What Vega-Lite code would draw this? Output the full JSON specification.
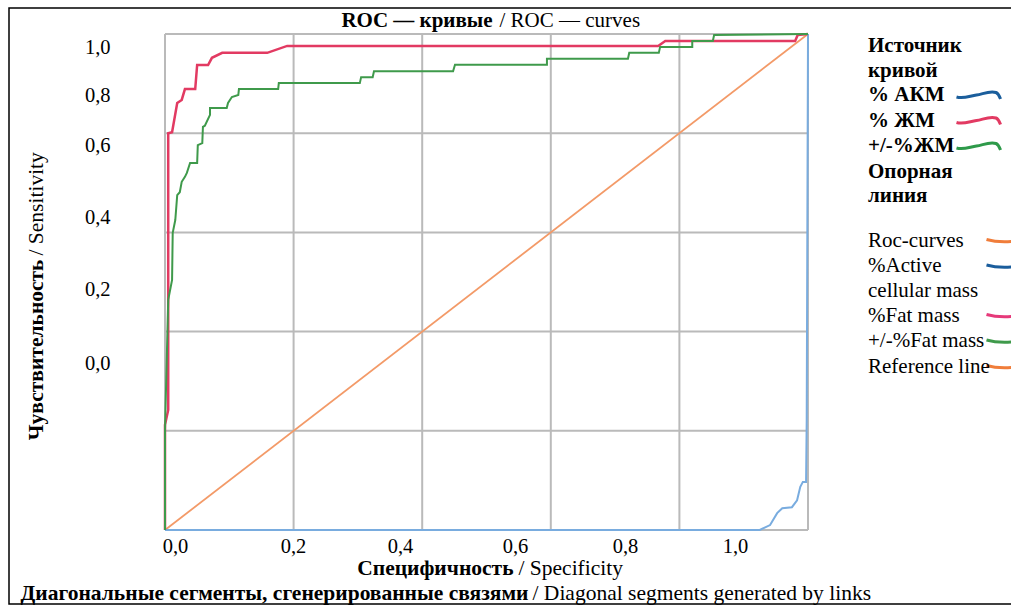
{
  "$schema": "https://vega.github.io/schema/vega-lite/v6.json",
  "width": 1004,
  "height": 596,
  "autosize": {"type": "none"},
  "padding": {"left": 9, "top": 8, "right": -2, "bottom": 2},
  "background": "#ffffff",
  "config": {
    "view": {"stroke": "#000000", "strokeWidth": 1.5},
    "font": "Liberation Serif",
    "style": {"guide-label": {"lineHeight": 24.5}}
  },
  "datasets": {
    "grid": [{"v": 0}, {"v": 0.2}, {"v": 0.4}, {"v": 0.6}, {"v": 0.8}, {"v": 1}],
    "names": [
      {"ru": "% АКМ", "en": "%Active cellular mass"},
      {"ru": "% ЖМ", "en": "%Fat mass"},
      {"ru": "+/-%ЖМ", "en": "+/-%Fat mass"},
      {"ru": "Опорная линия", "en": "Reference line"}
    ],
    "curves": [
      {"s": "Опорная линия", "i": 0, "x": 0, "y": 0},
      {"s": "Опорная линия", "i": 1, "x": 1, "y": 1},
      {"s": "% АКМ", "i": 0, "x": 0, "y": 0},
      {"s": "% АКМ", "i": 1, "x": 0.925, "y": 0},
      {"s": "% АКМ", "i": 2, "x": 0.941, "y": 0.01},
      {"s": "% АКМ", "i": 3, "x": 0.952, "y": 0.034},
      {"s": "% АКМ", "i": 4, "x": 0.96, "y": 0.044},
      {"s": "% АКМ", "i": 5, "x": 0.975, "y": 0.046},
      {"s": "% АКМ", "i": 6, "x": 0.983, "y": 0.06},
      {"s": "% АКМ", "i": 7, "x": 0.988, "y": 0.087},
      {"s": "% АКМ", "i": 8, "x": 0.992, "y": 0.097},
      {"s": "% АКМ", "i": 9, "x": 0.997, "y": 0.097},
      {"s": "% АКМ", "i": 10, "x": 0.998, "y": 0.222},
      {"s": "% АКМ", "i": 11, "x": 1, "y": 1},
      {"s": "% ЖМ", "i": 0, "x": 0, "y": 0},
      {"s": "% ЖМ", "i": 1, "x": 0, "y": 0.212},
      {"s": "% ЖМ", "i": 2, "x": 0.005, "y": 0.242},
      {"s": "% ЖМ", "i": 3, "x": 0.005, "y": 0.8},
      {"s": "% ЖМ", "i": 4, "x": 0.011, "y": 0.802},
      {"s": "% ЖМ", "i": 5, "x": 0.019, "y": 0.861},
      {"s": "% ЖМ", "i": 6, "x": 0.026, "y": 0.867},
      {"s": "% ЖМ", "i": 7, "x": 0.031, "y": 0.889},
      {"s": "% ЖМ", "i": 8, "x": 0.047, "y": 0.889},
      {"s": "% ЖМ", "i": 9, "x": 0.05, "y": 0.9375},
      {"s": "% ЖМ", "i": 10, "x": 0.067, "y": 0.9375},
      {"s": "% ЖМ", "i": 11, "x": 0.073, "y": 0.952},
      {"s": "% ЖМ", "i": 12, "x": 0.089, "y": 0.962},
      {"s": "% ЖМ", "i": 13, "x": 0.159, "y": 0.962},
      {"s": "% ЖМ", "i": 14, "x": 0.19, "y": 0.976},
      {"s": "% ЖМ", "i": 15, "x": 0.767, "y": 0.976},
      {"s": "% ЖМ", "i": 16, "x": 0.778, "y": 0.986},
      {"s": "% ЖМ", "i": 17, "x": 0.98, "y": 0.986},
      {"s": "% ЖМ", "i": 18, "x": 0.984, "y": 0.998},
      {"s": "% ЖМ", "i": 19, "x": 1, "y": 1},
      {"s": "+/-%ЖМ", "i": 0, "x": 0, "y": 0},
      {"s": "+/-%ЖМ", "i": 1, "x": 0, "y": 0.202},
      {"s": "+/-%ЖМ", "i": 2, "x": 0.005, "y": 0.464},
      {"s": "+/-%ЖМ", "i": 3, "x": 0.011, "y": 0.504},
      {"s": "+/-%ЖМ", "i": 4, "x": 0.012, "y": 0.599},
      {"s": "+/-%ЖМ", "i": 5, "x": 0.016, "y": 0.625},
      {"s": "+/-%ЖМ", "i": 6, "x": 0.019, "y": 0.675},
      {"s": "+/-%ЖМ", "i": 7, "x": 0.023, "y": 0.681},
      {"s": "+/-%ЖМ", "i": 8, "x": 0.026, "y": 0.702},
      {"s": "+/-%ЖМ", "i": 9, "x": 0.031, "y": 0.712},
      {"s": "+/-%ЖМ", "i": 10, "x": 0.034, "y": 0.72},
      {"s": "+/-%ЖМ", "i": 11, "x": 0.039, "y": 0.74},
      {"s": "+/-%ЖМ", "i": 12, "x": 0.05, "y": 0.74},
      {"s": "+/-%ЖМ", "i": 13, "x": 0.051, "y": 0.776},
      {"s": "+/-%ЖМ", "i": 14, "x": 0.058, "y": 0.78},
      {"s": "+/-%ЖМ", "i": 15, "x": 0.059, "y": 0.813},
      {"s": "+/-%ЖМ", "i": 16, "x": 0.062, "y": 0.815},
      {"s": "+/-%ЖМ", "i": 17, "x": 0.07, "y": 0.837},
      {"s": "+/-%ЖМ", "i": 18, "x": 0.07, "y": 0.851},
      {"s": "+/-%ЖМ", "i": 19, "x": 0.096, "y": 0.851},
      {"s": "+/-%ЖМ", "i": 20, "x": 0.098, "y": 0.861},
      {"s": "+/-%ЖМ", "i": 21, "x": 0.104, "y": 0.873},
      {"s": "+/-%ЖМ", "i": 22, "x": 0.114, "y": 0.877},
      {"s": "+/-%ЖМ", "i": 23, "x": 0.115, "y": 0.889},
      {"s": "+/-%ЖМ", "i": 24, "x": 0.176, "y": 0.889},
      {"s": "+/-%ЖМ", "i": 25, "x": 0.177, "y": 0.901},
      {"s": "+/-%ЖМ", "i": 26, "x": 0.303, "y": 0.901},
      {"s": "+/-%ЖМ", "i": 27, "x": 0.305, "y": 0.913},
      {"s": "+/-%ЖМ", "i": 28, "x": 0.323, "y": 0.913},
      {"s": "+/-%ЖМ", "i": 29, "x": 0.325, "y": 0.925},
      {"s": "+/-%ЖМ", "i": 30, "x": 0.448, "y": 0.925},
      {"s": "+/-%ЖМ", "i": 31, "x": 0.451, "y": 0.938},
      {"s": "+/-%ЖМ", "i": 32, "x": 0.594, "y": 0.938},
      {"s": "+/-%ЖМ", "i": 33, "x": 0.594, "y": 0.95},
      {"s": "+/-%ЖМ", "i": 34, "x": 0.72, "y": 0.95},
      {"s": "+/-%ЖМ", "i": 35, "x": 0.722, "y": 0.962},
      {"s": "+/-%ЖМ", "i": 36, "x": 0.768, "y": 0.962},
      {"s": "+/-%ЖМ", "i": 37, "x": 0.77, "y": 0.974},
      {"s": "+/-%ЖМ", "i": 38, "x": 0.82, "y": 0.974},
      {"s": "+/-%ЖМ", "i": 39, "x": 0.82, "y": 0.986},
      {"s": "+/-%ЖМ", "i": 40, "x": 0.852, "y": 0.986},
      {"s": "+/-%ЖМ", "i": 41, "x": 0.854, "y": 0.998},
      {"s": "+/-%ЖМ", "i": 42, "x": 1, "y": 1}
    ]
  },
  "resolve": {
    "axis": {"x": "independent", "y": "independent"},
    "scale": {"color": "independent"},
    "legend": {"color": "independent"}
  },
  "layer": [
    {
      "data": {"name": "grid"},
      "mark": {"type": "rule", "color": "#bababa", "strokeWidth": 2},
      "encoding": {
        "x": {
          "field": "v", "type": "quantitative",
          "scale": {"domain": [0, 1], "range": [156, 799], "nice": false, "zero": false},
          "axis": {
            "orient": "bottom", "offset": -74,
            "values": [0.0156, 0.199, 0.3655, 0.5443, 0.7154, 0.8865],
            "labelExpr": "datum.value < 0.1 ? '0,0' : datum.value < 0.28 ? '0,2' : datum.value < 0.45 ? '0,4' : datum.value < 0.63 ? '0,6' : datum.value < 0.8 ? '0,8' : '1,0'",
            "grid": false, "ticks": false, "domain": false,
            "labelFont": "Liberation Serif", "labelFontSize": 20.5, "labelColor": "#000000",
            "labelPadding": 16, "labelBaseline": "middle", "labelOverlap": false, "labelFlush": false,
            "title": "Специфичность",
            "titleFont": "Liberation Serif", "titleFontSize": 21.5, "titleFontWeight": "bold", "titleColor": "#000000",
            "titleX": 504, "titleY": 38, "titleAlign": "right", "titleBaseline": "middle", "titleAngle": 0, "titleLimit": 2000
          }
        },
        "y": {"datum": 0, "type": "quantitative", "scale": {"domain": [0, 1], "range": [522, 26], "nice": false, "zero": false}, "axis": null},
        "y2": {"datum": 1}
      }
    },
    {
      "data": {"name": "grid"},
      "mark": {"type": "rule", "color": "#bababa", "strokeWidth": 2},
      "encoding": {
        "y": {
          "field": "v", "type": "quantitative",
          "axis": {
            "orient": "left", "offset": -104,
            "values": [0.3361, 0.4839, 0.6296, 0.7762, 0.8756, 0.9724],
            "labelExpr": "datum.value < 0.4 ? '0,0' : datum.value < 0.55 ? '0,2' : datum.value < 0.7 ? '0,4' : datum.value < 0.82 ? '0,6' : datum.value < 0.92 ? '0,8' : '1,0'",
            "grid": false, "ticks": false, "domain": false,
            "labelFont": "Liberation Serif", "labelFontSize": 20.5, "labelColor": "#000000",
            "labelPadding": 3, "labelOverlap": false, "labelFlush": false,
            "title": "Чувствительность",
            "titleFont": "Liberation Serif", "titleFontSize": 21.5, "titleFontWeight": "bold", "titleColor": "#000000",
            "titleAngle": 270, "titleAlign": "right", "titleBaseline": "alphabetic",
            "titleX": -71, "titleY": 251, "titleLimit": 2000
          }
        },
        "x": {"datum": 0, "type": "quantitative", "axis": null},
        "x2": {"datum": 1}
      }
    },
    {
      "data": {"name": "curves"},
      "transform": [{"filter": "datum.s == 'Опорная линия'"}],
      "mark": {"type": "line", "strokeWidth": 1.8, "color": "#f39a68"},
      "encoding": {
        "x": {
          "field": "x", "type": "quantitative",
          "axis": {
            "orient": "bottom", "offset": 0, "labels": false, "ticks": false, "domain": false, "grid": false,
            "title": "/ Specificity",
            "titleFont": "Liberation Serif", "titleFontSize": 21.5, "titleFontWeight": "normal", "titleColor": "#000000",
            "titleX": 509, "titleY": -36, "titleAlign": "left", "titleBaseline": "middle", "titleAngle": 0, "titleLimit": 2000
          }
        },
        "y": {
          "field": "y", "type": "quantitative",
          "axis": {
            "orient": "left", "offset": 0, "labels": false, "ticks": false, "domain": false, "grid": false,
            "title": "/ Sensitivity",
            "titleFont": "Liberation Serif", "titleFontSize": 21.5, "titleFontWeight": "normal", "titleColor": "#000000",
            "titleAngle": 270, "titleAlign": "left", "titleBaseline": "alphabetic",
            "titleX": 33, "titleY": 247, "titleLimit": 2000
          }
        },
        "order": {"field": "i", "type": "quantitative"}
      }
    },
    {
      "data": {"name": "curves"},
      "transform": [{"filter": "datum.s == '% АКМ'"}],
      "mark": {"type": "line", "strokeWidth": 2, "color": "#79acdf"},
      "encoding": {
        "x": {
          "field": "x", "type": "quantitative",
          "axis": {
            "orient": "bottom", "offset": 0, "labels": false, "ticks": false, "domain": false, "grid": false,
            "title": "Диагональные сегменты, сгенерированные связями",
            "titleFont": "Liberation Serif", "titleFontSize": 21.5, "titleFontWeight": "bold", "titleColor": "#000000",
            "titleX": 519, "titleY": -11, "titleAlign": "right", "titleBaseline": "middle", "titleAngle": 0, "titleLimit": 2000
          }
        },
        "y": {
          "field": "y", "type": "quantitative",
          "axis": {
            "orient": "left", "offset": 0, "labels": false, "ticks": false, "domain": false, "grid": false,
            "title": "ROC — кривые",
            "titleFont": "Liberation Serif", "titleFontSize": 21, "titleFontWeight": "bold", "titleColor": "#000000",
            "titleAngle": 0, "titleAlign": "right", "titleBaseline": "middle",
            "titleX": 483, "titleY": 12, "titleLimit": 2000
          }
        },
        "order": {"field": "i", "type": "quantitative"}
      }
    },
    {
      "data": {"name": "curves"},
      "transform": [{"filter": "datum.s == '% ЖМ'"}],
      "mark": {"type": "line", "strokeWidth": 2.5},
      "encoding": {
        "x": {
          "field": "x", "type": "quantitative",
          "axis": {
            "orient": "bottom", "offset": 0, "labels": false, "ticks": false, "domain": false, "grid": false,
            "title": "/ Diagonal segments generated by links",
            "titleFont": "Liberation Serif", "titleFontSize": 21.5, "titleFontWeight": "normal", "titleColor": "#000000",
            "titleX": 523, "titleY": -11, "titleAlign": "left", "titleBaseline": "middle", "titleAngle": 0, "titleLimit": 2000
          }
        },
        "y": {"field": "y", "type": "quantitative", "axis": null},
        "order": {"field": "i", "type": "quantitative"},
        "color": {
          "field": "s", "type": "nominal",
          "scale": {
            "domain": ["% АКМ", "% ЖМ", "+/-%ЖМ", "Опорная линия"],
            "range": ["#1b5e9c", "#e23a62", "#2e9a4a", "transparent"]
          },
          "legend": {
            "orient": "none", "legendX": 859, "legendY": 27, "padding": 0,
            "title": ["Источник", "кривой"],
            "titleFont": "Liberation Serif", "titleFontSize": 21, "titleFontWeight": "bold", "titleColor": "#000000",
            "titleLineHeight": 24.5, "titlePadding": 4, "titleLimit": 400,
            "labelFont": "Liberation Serif", "labelFontSize": 21, "labelFontWeight": "bold", "labelColor": "#000000",
            "labelLimit": 400, "labelOffset": -121,
            "labelExpr": "datum.label == 'Опорная линия' ? ['Опорная', 'линия'] : datum.label",
            "rowPadding": 3.5,
            "symbolSize": 100, "symbolStrokeWidth": 3, "symbolOffset": 100,
            "symbolType": "M-4.4,0.4C-3,0.8 -1.8,0.2 -0.4,0C0.9,-0.2 2.2,-0.9 3.5,-0.5C4,-0.3 4.2,0.3 4.4,0.8"
          }
        }
      }
    },
    {
      "data": {"name": "curves"},
      "transform": [
        {"filter": "datum.s == '+/-%ЖМ'"},
        {"lookup": "s", "from": {"data": {"name": "names"}, "key": "ru", "fields": ["en"]}}
      ],
      "mark": {"type": "line", "strokeWidth": 2},
      "encoding": {
        "x": {
          "field": "x", "type": "quantitative",
          "axis": {
            "orient": "top", "offset": 0, "labels": false, "ticks": false, "domain": false, "grid": false,
            "title": "/ ROC — curves",
            "titleFont": "Liberation Serif", "titleFontSize": 21, "titleFontWeight": "normal", "titleColor": "#000000",
            "titleX": 490, "titleY": 12, "titleAlign": "left", "titleBaseline": "middle", "titleAngle": 0, "titleLimit": 2000
          }
        },
        "y": {"field": "y", "type": "quantitative", "axis": null},
        "order": {"field": "i", "type": "quantitative"},
        "color": {
          "field": "en", "type": "nominal",
          "scale": {
            "domain": ["Roc-curves", "%Active cellular mass", "%Fat mass", "+/-%Fat mass", "Reference line"],
            "range": ["#f07d3a", "#1a5d9c", "#e6397a", "#3f9a4b", "#f07d3a"]
          },
          "legend": {
            "orient": "none", "legendX": 859, "legendY": 222, "padding": 0,
            "title": null,
            "labelFont": "Liberation Serif", "labelFontSize": 21, "labelFontWeight": "normal", "labelColor": "#000000",
            "labelLimit": 400, "labelOffset": -147,
            "labelExpr": "datum.label == '%Active cellular mass' ? ['%Active', 'cellular mass'] : datum.label",
            "rowPadding": 3.5,
            "symbolSize": 100, "symbolStrokeWidth": 3, "symbolOffset": 126,
            "symbolType": "M-3.6,-0.2C-1.5,0.4 1.5,0.4 3.6,-0.2"
          }
        }
      }
    }
  ]
}
